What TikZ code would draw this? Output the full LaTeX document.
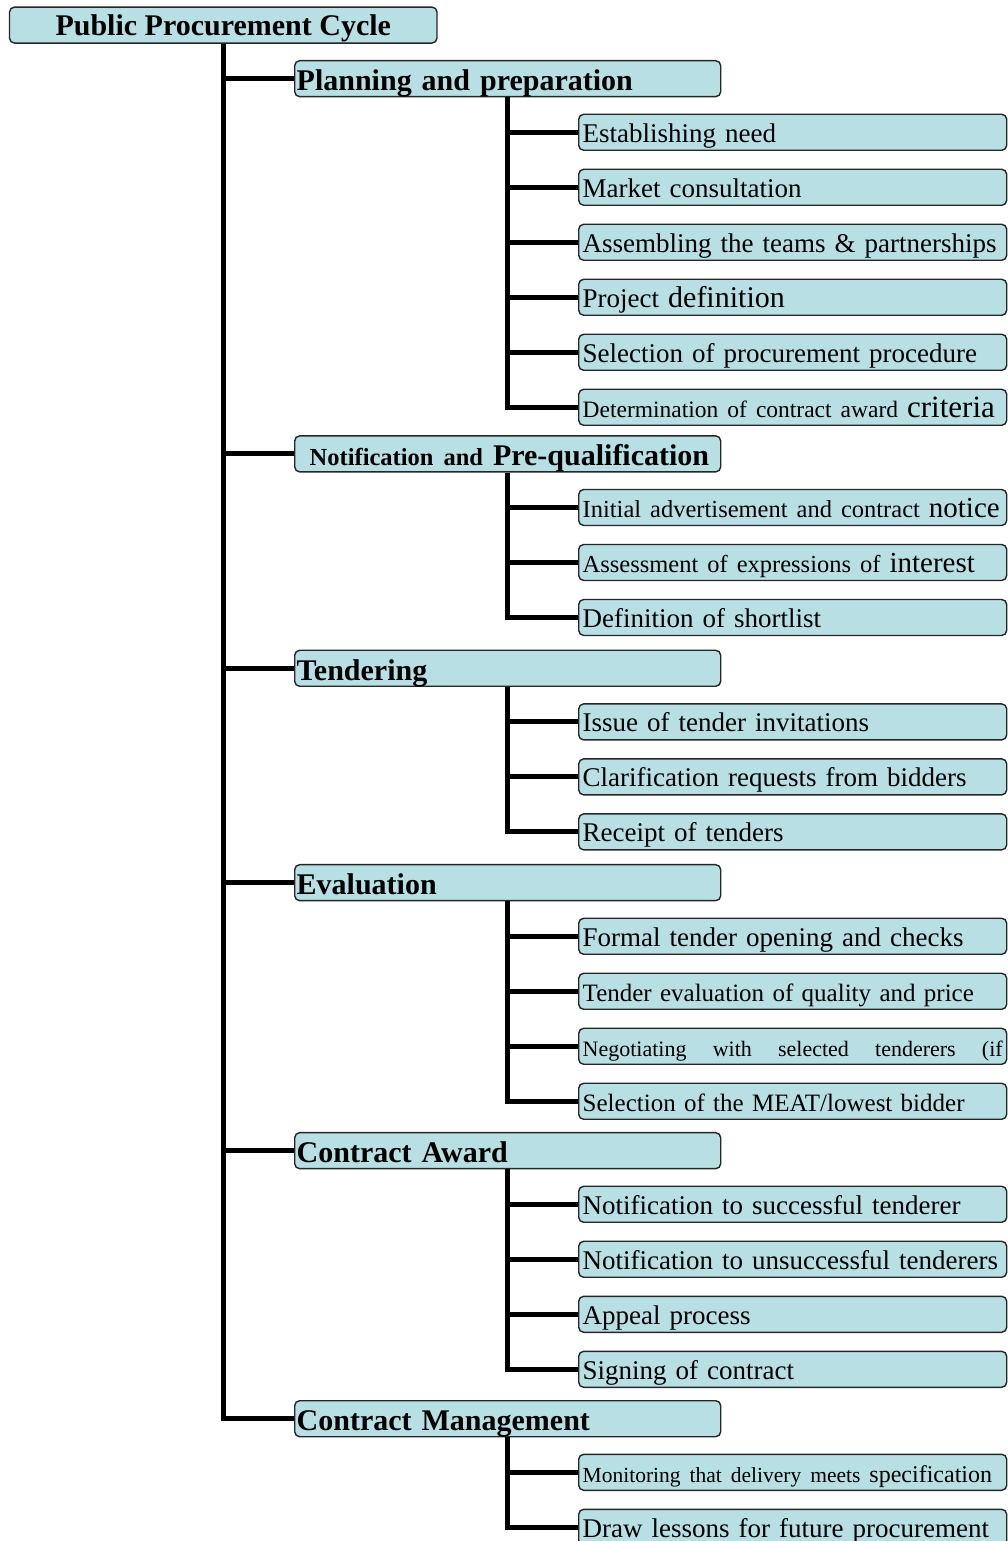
\documentclass[tikz,border=0pt]{standalone}
\usepackage{fontspec}
\setmainfont{Liberation Serif}
\usepackage{tikz}
\usetikzlibrary{positioning}

\definecolor{boxblue}{RGB}{184,223,228}
\newcommand{\fsz}[1]{\fontsize{#1}{#1}\selectfont}

\begin{document}
\begin{tikzpicture}[
		x=1pt, y=-53.6pt,
		node distance=17.6pt,
		box/.style = {draw=black!85, line width=1.4pt, rounded corners=5pt, fill=boxblue, inner ysep=4pt},
		rootbox/.style = {box, minimum width=427.5pt, text height=24pt, text depth=4pt, font=\fsz{30}\bfseries},
		phasebox/.style = {box, anchor=west, inner xsep=2pt, text width=422pt, align=left, text height=26pt, text depth=2pt, font=\fsz{30}\bfseries},
		taskbox/.style = {box, anchor=west, inner xsep=4pt, text width=420pt, align=left, text height=24pt, text depth=4pt, font=\fsz{27}},
		trunk/.style = {line width=5pt}
	]
	\useasboundingbox (0,-1.468) rectangle (1008,27.282);
	\clip (0,-1.468) rectangle (1008,27.282);

	\node[rootbox] (root) at (223.25,-1) {Public Procurement Cycle};
	% Phase 1.
	\node[phasebox] (plan) at (294,0) {Planning and preparation};
	\node[taskbox] (plan1) at (578,1) {Establishing need};
	\node[taskbox, below=of plan1] (plan2) {Market consultation};
	\node[taskbox, below=of plan2] (plan3) {Assembling the teams \& partnerships};
	\node[taskbox, below=of plan3] (plan4) {Project {\fsz{30}definition}};
	\node[taskbox, below=of plan4] (plan5) {Selection of procurement procedure};
	\node[taskbox, below=of plan5] (plan6) {\mbox{{\fsz{23.5}Determination of contract award} {\fsz{31}criteria}}};
	% Phase 2.
	\node[phasebox] (notif) at (294,7) {\mbox{\hspace*{13pt}{\fsz{24.5}Notification and} Pre-qualification}};
	\node[taskbox] (notif1) at (578,8) {\mbox{{\fsz{24.5}Initial advertisement and contract} {\fsz{29}notice}}};
	\node[taskbox, below=of notif1] (notif2) {\mbox{{\fsz{24.5}Assessment of expressions of} {\fsz{29}interest}}};
	\node[taskbox, below=of notif2] (notif3) {Definition of shortlist};
	% Phase 3.
	\node[phasebox] (tend) at (294,11) {Tendering};
	\node[taskbox] (tend1) at (578,12) {Issue of tender invitations};
	\node[taskbox, below=of tend1] (tend2) {Clarification requests from bidders};
	\node[taskbox, below=of tend2] (tend3) {Receipt of tenders};
	% Phase 4.
	\node[phasebox] (eval) at (294,15) {Evaluation};
	\node[taskbox] (eval1) at (578,16) {Formal tender opening and checks};
	\node[taskbox, below=of eval1, font=\fsz{25}] (eval2) {Tender evaluation of quality and price};
	\node[taskbox, below=of eval2, font=\fsz{22}] (eval3) {\hbox to 420pt{Negotiating\hfill with\hfill selected\hfill tenderers\hfill (if}};
	\node[taskbox, below=of eval3, font=\fsz{25}] (eval4) {Selection of the MEAT/lowest bidder};
	% Phase 5.
	\node[phasebox] (award) at (294,20) {Contract Award};
	\node[taskbox] (award1) at (578,21) {Notification to successful tenderer};
	\node[taskbox, below=of award1] (award2) {Notification to unsuccessful tenderers};
	\node[taskbox, below=of award2] (award3) {Appeal process};
	\node[taskbox, below=of award3] (award4) {Signing of contract};
	% Phase 6.
	\node[phasebox] (manage) at (294,25) {Contract Management};
	\node[taskbox] (manage1) at (578,26) {\mbox{{\fsz{21.5}Monitoring that delivery meets} {\fsz{24}specification}}};
	\node[taskbox, below=of manage1] (manage2) {Draw lessons for future procurement};

	% Main trunk.
	\draw[trunk] (root.south) |- (plan.west);
	\draw[trunk] (root.south) |- (notif.west);
	\draw[trunk] (root.south) |- (tend.west);
	\draw[trunk] (root.south) |- (eval.west);
	\draw[trunk] (root.south) |- (award.west);
	\draw[trunk] (root.south) |- (manage.west);
	% Sub trunks.
	\draw[trunk] (plan.south) |- (plan1.west);
	\draw[trunk] (plan.south) |- (plan2.west);
	\draw[trunk] (plan.south) |- (plan3.west);
	\draw[trunk] (plan.south) |- (plan4.west);
	\draw[trunk] (plan.south) |- (plan5.west);
	\draw[trunk] (plan.south) |- (plan6.west);
	\draw[trunk] (notif.south) |- (notif1.west);
	\draw[trunk] (notif.south) |- (notif2.west);
	\draw[trunk] (notif.south) |- (notif3.west);
	\draw[trunk] (tend.south) |- (tend1.west);
	\draw[trunk] (tend.south) |- (tend2.west);
	\draw[trunk] (tend.south) |- (tend3.west);
	\draw[trunk] (eval.south) |- (eval1.west);
	\draw[trunk] (eval.south) |- (eval2.west);
	\draw[trunk] (eval.south) |- (eval3.west);
	\draw[trunk] (eval.south) |- (eval4.west);
	\draw[trunk] (award.south) |- (award1.west);
	\draw[trunk] (award.south) |- (award2.west);
	\draw[trunk] (award.south) |- (award3.west);
	\draw[trunk] (award.south) |- (award4.west);
	\draw[trunk] (manage.south) |- (manage1.west);
	\draw[trunk] (manage.south) |- (manage2.west);
\end{tikzpicture}
\end{document}
